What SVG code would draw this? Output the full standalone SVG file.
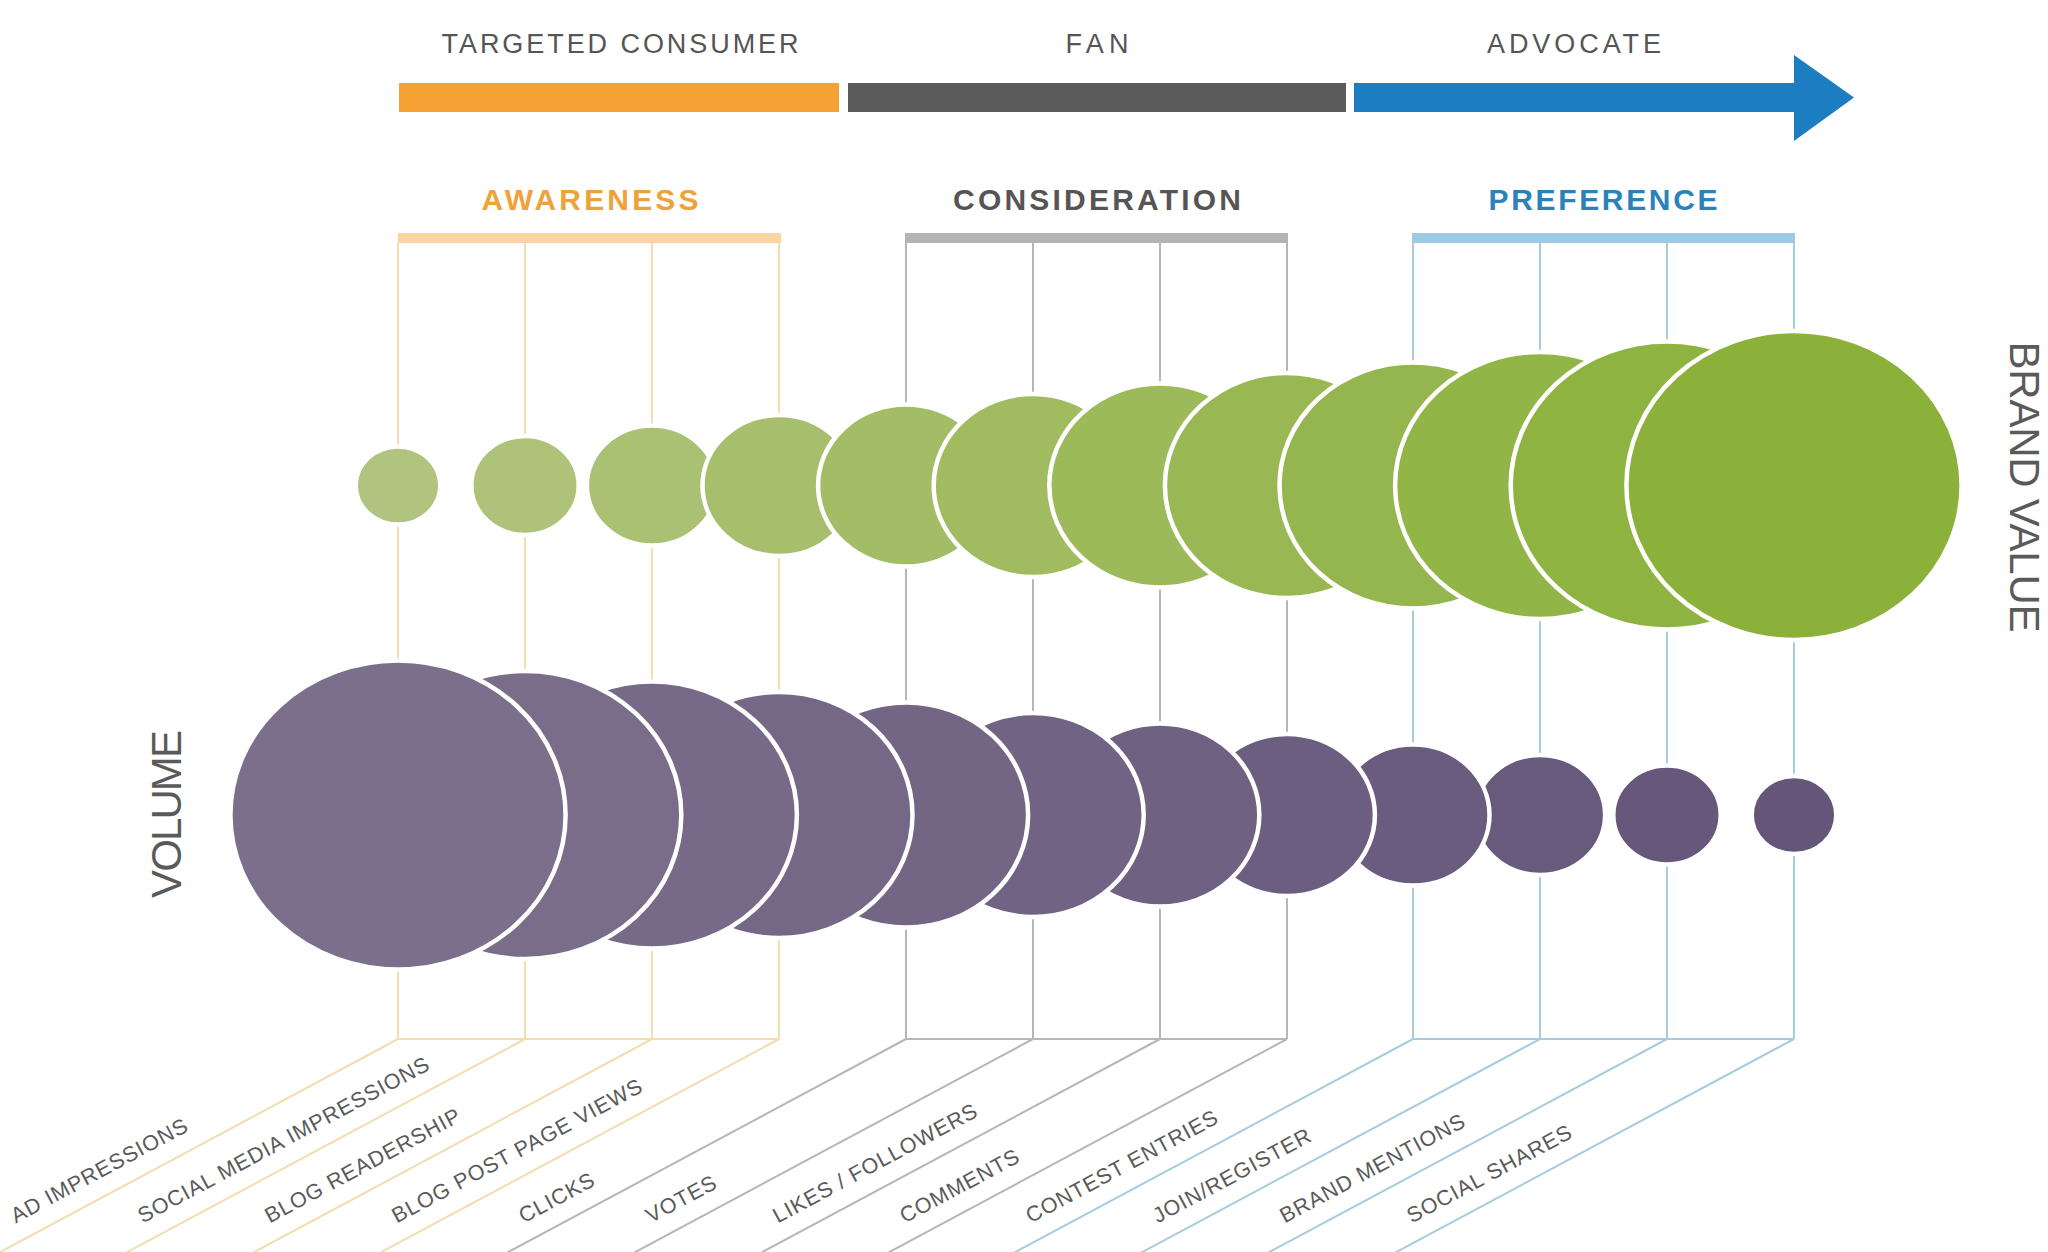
<svg xmlns="http://www.w3.org/2000/svg" width="2048" height="1252" viewBox="0 0 2048 1252">
<style>
  text { font-family: "Liberation Sans", Arial, sans-serif; }
  .stage { font-size: 27px; fill: #555555; text-anchor: middle; }
  .phase { font-size: 30px; font-weight: bold; text-anchor: middle; }
  .axis { font-size: 42px; fill: #5a5a5a; text-anchor: middle; }
  .lbl { font-size: 21.5px; fill: #5a5a5a; letter-spacing: 0.9px; }
  .la { stroke: #F3DCAE; stroke-width: 2; fill: none; }
  .lc { stroke: #B5B5BC; stroke-width: 2; fill: none; }
  .lp { stroke: #A7CCDD; stroke-width: 2; fill: none; }
  .bub { stroke: #ffffff; stroke-width: 4.5; }
</style>
<rect x="0" y="0" width="2048" height="1252" fill="#ffffff"/>

<g id="stage-bar">
  <rect x="399" y="83" width="440" height="29" fill="#F6A133"/>
  <rect x="848" y="83" width="498" height="29" fill="#5B5B5B"/>
  <path d="M1354 83 H1794 V55 L1854 97.5 L1794 141 V112 H1354 Z" fill="#1C7DC0"/>
  <text class="stage" x="620" y="53" textLength="357">TARGETED CONSUMER</text>
  <text class="stage" x="1097" y="53" textLength="63">FAN</text>
  <text class="stage" x="1574" y="53" textLength="174">ADVOCATE</text>
</g>

<g id="phase-awareness">
  <text class="phase" x="590" y="210" fill="#EEA23A" textLength="217">AWARENESS</text>
  <rect x="398" y="233" width="383" height="10" fill="#FBD4A4"/>
</g>
<g id="phase-consideration">
  <text class="phase" x="1097" y="210" fill="#555555" textLength="288">CONSIDERATION</text>
  <rect x="905" y="233" width="383" height="10" fill="#B4B4B4"/>
</g>
<g id="phase-preference">
  <text class="phase" x="1603" y="210" fill="#2A82B8" textLength="229">PREFERENCE</text>
  <rect x="1412" y="233" width="383" height="10" fill="#9DCBE6"/>
</g>

<g id="connectors">
  <g class="la">
    <path d="M398 243 V1039 M525 243 V1039 M652 243 V1039 M779 243 V1039 M398 1039 H779"/>
    <path d="M398 1039 L-22 1264 M525 1039 L105 1264 M652 1039 L232 1264 M779 1039 L359 1264"/>
  </g>
  <g class="lc">
    <path d="M906 243 V1039 M1033 243 V1039 M1160 243 V1039 M1287 243 V1039 M906 1039 H1287"/>
    <path d="M906 1039 L486 1264 M1033 1039 L613 1264 M1160 1039 L740 1264 M1287 1039 L867 1264"/>
  </g>
  <g class="lp">
    <path d="M1413 243 V1039 M1540 243 V1039 M1667 243 V1039 M1794 243 V1039 M1413 1039 H1794"/>
    <path d="M1413 1039 L993 1264 M1540 1039 L1120 1264 M1667 1039 L1247 1264 M1794 1039 L1374 1264"/>
  </g>
</g>

<g id="brand-value-bubbles">
  <ellipse id="bv-1" class="bub" cx="398" cy="485.5" rx="42.3" ry="39" fill="#B1C47F"/>
  <ellipse id="bv-2" class="bub" cx="525" cy="485.5" rx="53.7" ry="49.5" fill="#AEC279"/>
  <ellipse id="bv-3" class="bub" cx="652" cy="485.5" rx="65.1" ry="60" fill="#AAC173"/>
  <ellipse id="bv-4" class="bub" cx="779" cy="485.5" rx="76.5" ry="70.5" fill="#A7BF6C"/>
  <ellipse id="bv-5" class="bub" cx="906" cy="485.5" rx="87.9" ry="81" fill="#A3BD66"/>
  <ellipse id="bv-6" class="bub" cx="1033" cy="485.5" rx="99.3" ry="91.5" fill="#A0BB60"/>
  <ellipse id="bv-7" class="bub" cx="1160" cy="485.5" rx="110.7" ry="102" fill="#9CBA5A"/>
  <ellipse id="bv-8" class="bub" cx="1287" cy="485.5" rx="122.1" ry="112.5" fill="#99B854"/>
  <ellipse id="bv-9" class="bub" cx="1413" cy="485.5" rx="133.5" ry="123" fill="#95B64E"/>
  <ellipse id="bv-10" class="bub" cx="1540" cy="485.5" rx="144.9" ry="133.5" fill="#92B547"/>
  <ellipse id="bv-11" class="bub" cx="1667" cy="485.5" rx="156.3" ry="144" fill="#8EB341"/>
  <ellipse id="bv-12" class="bub" cx="1794" cy="485.5" rx="167.6" ry="154.5" fill="#8BB13B"/>
</g>

<g id="volume-bubbles">
  <ellipse id="vol-12" class="bub" cx="1794" cy="815" rx="42.3" ry="39" fill="#645579"/>
  <ellipse id="vol-11" class="bub" cx="1667" cy="815" rx="53.7" ry="49.5" fill="#66577B"/>
  <ellipse id="vol-10" class="bub" cx="1540" cy="815" rx="65.1" ry="60" fill="#685A7C"/>
  <ellipse id="vol-9" class="bub" cx="1413" cy="815" rx="76.5" ry="70.5" fill="#6A5C7E"/>
  <ellipse id="vol-8" class="bub" cx="1287" cy="815" rx="87.9" ry="81" fill="#6C5E80"/>
  <ellipse id="vol-7" class="bub" cx="1160" cy="815" rx="99.3" ry="91.5" fill="#6E6181"/>
  <ellipse id="vol-6" class="bub" cx="1033" cy="815" rx="110.7" ry="102" fill="#716383"/>
  <ellipse id="vol-5" class="bub" cx="906" cy="815" rx="122.1" ry="112.5" fill="#736684"/>
  <ellipse id="vol-4" class="bub" cx="779" cy="815" rx="133.5" ry="123" fill="#756886"/>
  <ellipse id="vol-3" class="bub" cx="652" cy="815" rx="144.9" ry="133.5" fill="#776A88"/>
  <ellipse id="vol-2" class="bub" cx="525" cy="815" rx="156.3" ry="144" fill="#796D89"/>
  <ellipse id="vol-1" class="bub" cx="398" cy="815" rx="167.6" ry="154.5" fill="#7B6F8B"/>
</g>

<g id="axis-labels">
  <text class="axis" transform="translate(181 814) rotate(-90)" textLength="168">VOLUME</text>
  <text class="axis" transform="translate(2010 487) rotate(90)" textLength="291">BRAND VALUE</text>
</g>

<g id="metric-labels">
  <text class="lbl" transform="translate(398 1039) rotate(-28.2)" x="-424" y="-18">AD IMPRESSIONS</text>
  <text class="lbl" transform="translate(525 1039) rotate(-28.2)" x="-424" y="-18">SOCIAL MEDIA IMPRESSIONS</text>
  <text class="lbl" transform="translate(652 1039) rotate(-28.2)" x="-424" y="-18">BLOG READERSHIP</text>
  <text class="lbl" transform="translate(779 1039) rotate(-28.2)" x="-424" y="-18">BLOG POST PAGE VIEWS</text>
  <text class="lbl" transform="translate(906 1039) rotate(-28.2)" x="-424" y="-18">CLICKS</text>
  <text class="lbl" transform="translate(1033 1039) rotate(-28.2)" x="-424" y="-18">VOTES</text>
  <text class="lbl" transform="translate(1160 1039) rotate(-28.2)" x="-424" y="-18">LIKES / FOLLOWERS</text>
  <text class="lbl" transform="translate(1287 1039) rotate(-28.2)" x="-424" y="-18">COMMENTS</text>
  <text class="lbl" transform="translate(1413 1039) rotate(-28.2)" x="-424" y="-18">CONTEST ENTRIES</text>
  <text class="lbl" transform="translate(1540 1039) rotate(-28.2)" x="-424" y="-18">JOIN/REGISTER</text>
  <text class="lbl" transform="translate(1667 1039) rotate(-28.2)" x="-424" y="-18">BRAND MENTIONS</text>
  <text class="lbl" transform="translate(1794 1039) rotate(-28.2)" x="-424" y="-18">SOCIAL SHARES</text>
</g>
</svg>
